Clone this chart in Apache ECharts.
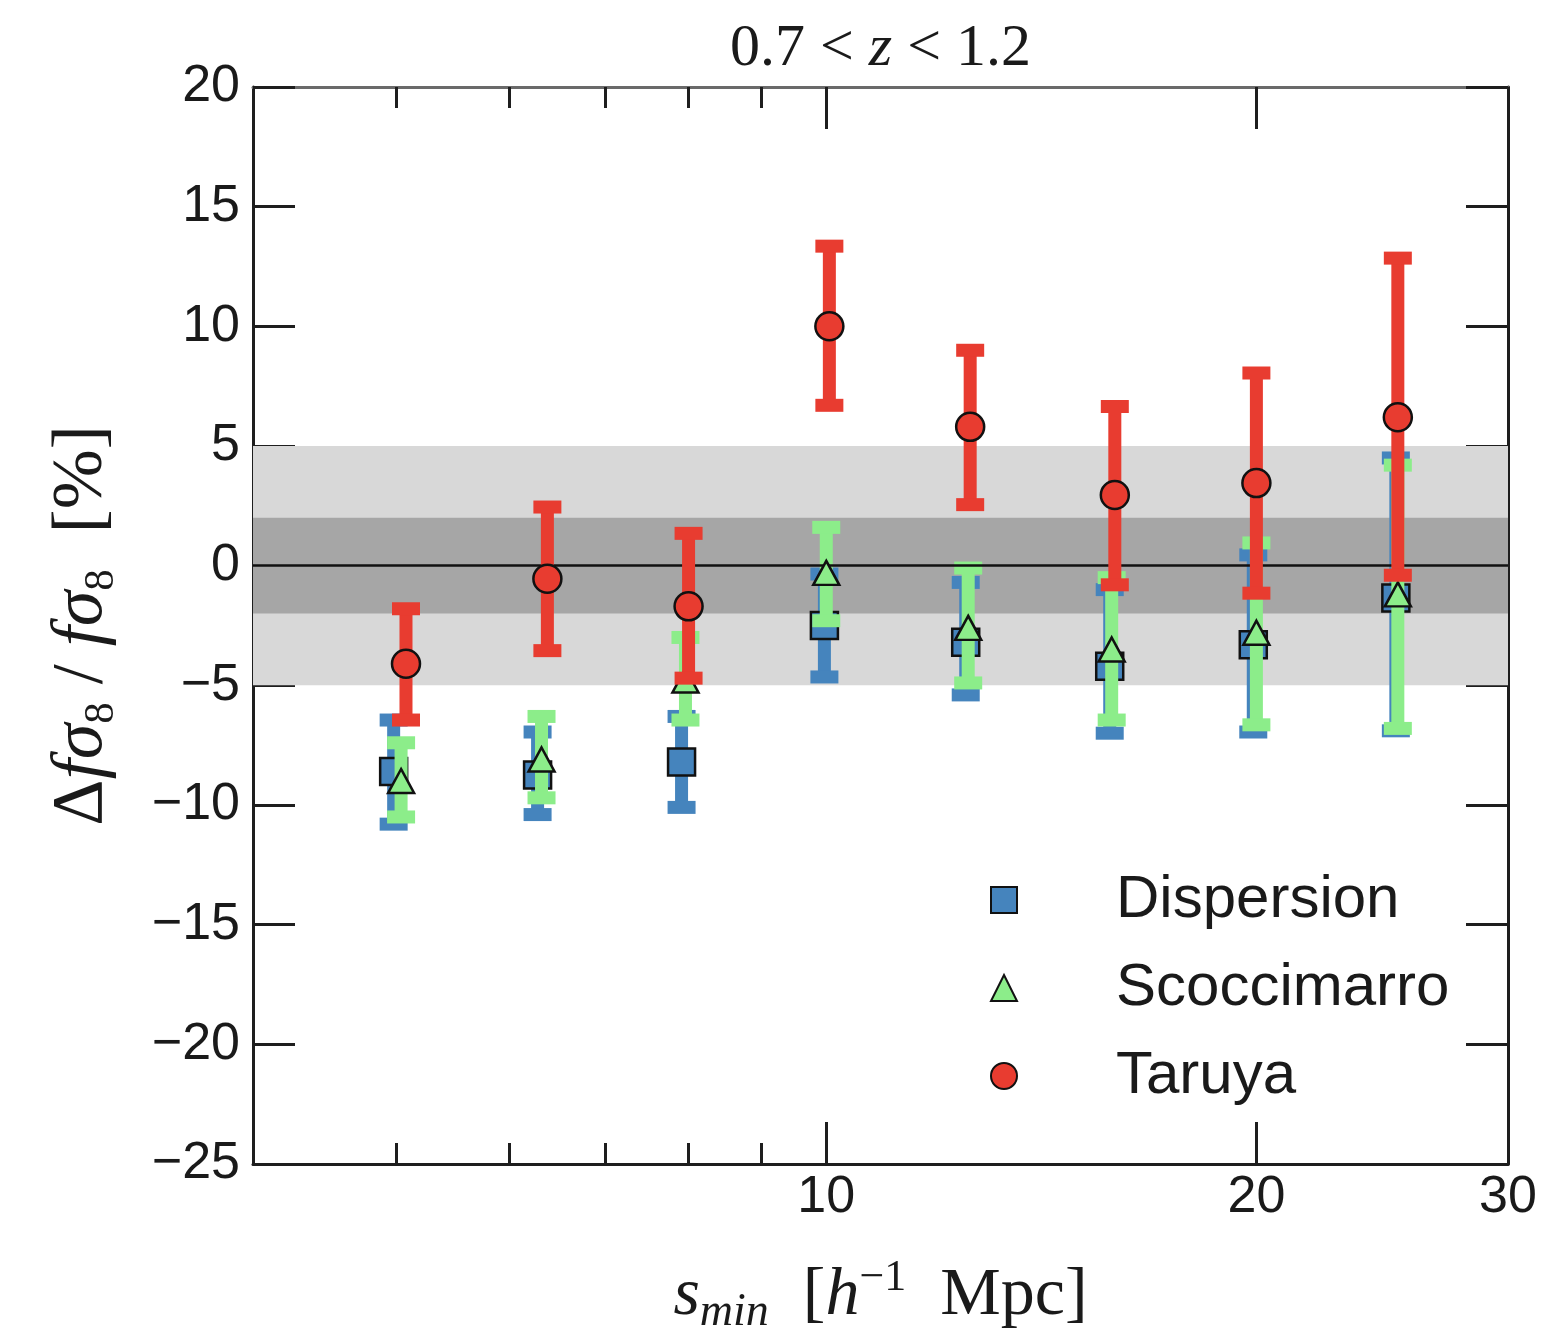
<!DOCTYPE html>
<html><head><meta charset="utf-8">
<script src="https://cdn.jsdelivr.net/npm/echarts@6/dist/echarts.min.js"></script>
<style>html,body{margin:0;padding:0;background:#fff}#c{width:1547px;height:1334px}</style>
</head><body><div id="c"></div>
<script>
// ---- data ----
const seriesNames = ['Dispersion', 'Scoccimarro', 'Taruya'];

const dispX  = [4.98, 6.28, 7.92, 9.97, 12.52, 15.79, 19.90, 25.04];
const dispY  = [-8.6, -8.75, -8.2, -2.5, -3.2, -4.2, -3.3, -1.35];
const dispLo = [-10.8, -10.4, -10.1, -4.65, -5.4, -7.0, -6.95, -6.9];
const dispHi = [-6.45, -6.95, -6.3, -0.35, -0.7, -1.0, 0.45, 4.5];

const scocX  = [5.04, 6.32, 7.97, 10.0, 12.57, 15.84, 20.0, 25.12];
const scocY  = [-9.0, -8.1, -4.8, -0.3, -2.6, -3.5, -2.8, -1.2];
const scocLo = [-10.5, -9.7, -6.45, -2.3, -4.9, -6.45, -6.65, -6.8];
const scocHi = [-7.4, -6.3, -3.0, 1.6, -0.1, -0.5, 0.95, 4.2];

const taruX  = [5.08, 6.38, 8.01, 10.05, 12.61, 15.92, 20.0, 25.12];
const taruY  = [-4.1, -0.55, -1.7, 10.0, 5.8, 2.95, 3.45, 6.2];
const taruLo = [-6.45, -3.55, -4.7, 6.7, 2.55, -0.8, -1.15, -0.4];
const taruHi = [-1.8, 2.45, 1.35, 13.35, 9.0, 6.65, 8.05, 12.85];

const bandOuter = [-5, 5];
const bandInner = [-2, 2];
const zeroLine = 0;

const xMin = 3.97, xMax = 30;
const xMajorTicks = [10, 20, 30];
const xMinorTicks = [5, 6, 7, 8, 9];
const yMin = -25, yMax = 20, yStep = 5;

// ---- styles ----
const colBlue = '#4584bd', colGreen = '#8ced8a', colRed = '#e83c30';
const frameCol = '#1e1e1e';

const chart = echarts.init(document.getElementById('c'), null, {renderer: 'canvas'});

function errRender(color) {
  return function (params, api) {
    const x = api.value(0), lo = api.value(1), hi = api.value(2);
    const a = api.coord([x, lo]), b = api.coord([x, hi]);
    const hw = 14, lw = 13;
    const st = {stroke: color, lineWidth: lw, lineCap: 'butt'};
    return {type: 'group', children: [
      {type: 'line', shape: {x1: a[0], y1: a[1], x2: b[0], y2: b[1]}, style: st},
      {type: 'line', shape: {x1: a[0] - hw, y1: a[1], x2: a[0] + hw, y2: a[1]}, style: st},
      {type: 'line', shape: {x1: b[0] - hw, y1: b[1], x2: b[0] + hw, y2: b[1]}, style: st}
    ]};
  };
}
function bandRender(params, api) {
  const lo = api.value(0), hi = api.value(1);
  const p1 = api.coord([xMin, hi]), p2 = api.coord([xMax, lo]);
  return {type: 'rect', shape: {x: p1[0], y: p1[1], width: p2[0] - p1[0], height: p2[1] - p1[1]},
          style: {fill: api.value(2) === 1 ? '#a6a6a6' : '#d8d8d8'}};
}

const L = Math.log10;
const serif = 'Liberation Serif';
const sans = 'Liberation Sans';

const tickAxisBase = (pos, vals, len, showLine, lineColor) => ({
  type: 'value', gridIndex: 0, position: pos, min: L(xMin), max: L(xMax),
  axisLine: {show: showLine, onZero: false, lineStyle: {color: lineColor || frameCol, width: 3}},
  axisTick: {show: true, inside: true, length: len, customValues: vals.map(L), lineStyle: {color: frameCol, width: 3}},
  axisLabel: {show: false}, splitLine: {show: false}
});

const xAxes = [
  {type: 'log', logBase: 10, min: xMin, max: xMax, show: false, gridIndex: 0},
  Object.assign(tickAxisBase('bottom', xMajorTicks, 42, true), {
    axisLabel: {show: true, customValues: xMajorTicks.map(L), margin: 8,
      formatter: v => String(Math.round(Math.pow(10, v))),
      fontFamily: sans, fontSize: 52, color: '#1a1a1a'},
    name: '{i|s}{sub|min}{n|  [}{i|h}{sup|\u22121}{n|  Mpc]}',
    nameLocation: 'middle', nameGap: 92,
    nameTextStyle: {fontFamily: serif, fontSize: 66, color: '#1a1a1a',
      rich: {
        i: {fontFamily: serif, fontStyle: 'italic', fontSize: 68, color: '#1a1a1a', lineHeight: 80},
        sub: {fontFamily: serif, fontStyle: 'italic', fontSize: 46, color: '#1a1a1a', verticalAlign: 'bottom', lineHeight: 60},
        sup: {fontFamily: serif, fontSize: 44, color: '#1a1a1a', verticalAlign: 'top', lineHeight: 50},
        n: {fontFamily: serif, fontSize: 68, color: '#1a1a1a', lineHeight: 80}
      }}
  }),
  tickAxisBase('bottom', xMinorTicks, 21, false),
  Object.assign(tickAxisBase('top', xMajorTicks, 42, true, '#6a6a6a'), {
    name: '{n|0.7 < }{i|z}{n| < 1.2}', nameLocation: 'middle', nameGap: 8,
    nameTextStyle: {fontFamily: serif, fontSize: 60, color: '#1a1a1a',
      rich: {n: {fontFamily: serif, fontSize: 60, color: '#1a1a1a'},
             i: {fontFamily: serif, fontStyle: 'italic', fontSize: 60, color: '#1a1a1a'}}}
  }),
  tickAxisBase('top', xMinorTicks, 21, false)
];

const yAxes = [
  {type: 'value', position: 'left', min: yMin, max: yMax, interval: yStep,
   axisLine: {show: true, onZero: false, lineStyle: {color: frameCol, width: 3}},
   axisTick: {show: true, inside: true, length: 42, lineStyle: {color: frameCol, width: 3}},
   axisLabel: {margin: 13, fontFamily: sans, fontSize: 52, color: '#1a1a1a',
     formatter: v => (v < 0 ? '\u2212' + Math.abs(v) : String(v))},
   splitLine: {show: false},
   name: '{n|\u0394}{i|f\u03c3}{sub|8}{n| / }{i|f\u03c3}{sub|8}{n|  [%]}',
   nameLocation: 'middle', nameRotate: 90, nameGap: 130,
   nameTextStyle: {fontFamily: serif, fontSize: 72, color: '#1a1a1a',
     rich: {
       n: {fontFamily: serif, fontSize: 72, color: '#1a1a1a', lineHeight: 82},
       i: {fontFamily: serif, fontStyle: 'italic', fontSize: 72, color: '#1a1a1a', lineHeight: 82},
       sub: {fontFamily: serif, fontSize: 43, color: '#1a1a1a', verticalAlign: 'bottom', lineHeight: 60}
     }}
  },
  {type: 'value', position: 'right', min: yMin, max: yMax, interval: yStep,
   axisLine: {show: true, onZero: false, lineStyle: {color: frameCol, width: 3}},
   axisTick: {show: true, inside: true, length: 42, lineStyle: {color: frameCol, width: 3}},
   axisLabel: {show: false}, splitLine: {show: false}}
];

const mk = (xs, a, b) => xs.map((x, i) => [x, a[i], b[i]]);

const option = {
  animation: false,
  backgroundColor: '#ffffff',
  grid: {left: 253, right: 39, top: 87, bottom: 170, containLabel: false, outerBoundsMode: 'none'},
  xAxis: xAxes,
  yAxis: yAxes,
  legend: {
    data: seriesNames, orient: 'vertical', left: 990, top: 870, padding: 0,
    itemWidth: 26, itemHeight: 26, itemGap: 28, selectedMode: false,
    formatter: name => '{sp| }' + name,
    textStyle: {fontFamily: sans, fontSize: 60, color: '#1a1a1a', lineHeight: 60,
      rich: {sp: {width: 94}}}
  },
  series: [
    {type: 'custom', name: 'bands', xAxisIndex: 0, yAxisIndex: 0, z: 1, silent: true,
     renderItem: bandRender, clip: true,
     data: [[bandOuter[0], bandOuter[1], 0], [bandInner[0], bandInner[1], 1]],
     encode: {y: [0, 1]},
     markLine: {silent: true, symbol: 'none', z: 4.5, label: {show: false},
       lineStyle: {color: '#111', width: 2.5, type: 'solid'}, data: [{yAxis: zeroLine}]}},
    {type: 'custom', name: 'Dispersion err', xAxisIndex: 0, yAxisIndex: 0, z: 2,
     renderItem: errRender(colBlue), data: mk(dispX, dispLo, dispHi), encode: {x: 0, y: [1, 2]}},
    {type: 'scatter', name: 'Dispersion', xAxisIndex: 0, yAxisIndex: 0, z: 3,
     symbol: 'rect', symbolSize: 27,
     itemStyle: {color: colBlue, borderColor: '#111', borderWidth: 2.5, opacity: 1},
     data: dispX.map((x, i) => [x, dispY[i]])},
    {type: 'custom', name: 'Scoccimarro err', xAxisIndex: 0, yAxisIndex: 0, z: 4,
     renderItem: errRender(colGreen), data: mk(scocX, scocLo, scocHi), encode: {x: 0, y: [1, 2]}},
    {type: 'scatter', name: 'Scoccimarro', xAxisIndex: 0, yAxisIndex: 0, z: 5,
     symbol: 'triangle', symbolSize: [26, 24],
     itemStyle: {color: colGreen, borderColor: '#111', borderWidth: 2.5, opacity: 1},
     data: scocX.map((x, i) => [x, scocY[i]])},
    {type: 'custom', name: 'Taruya err', xAxisIndex: 0, yAxisIndex: 0, z: 6,
     renderItem: errRender(colRed), data: mk(taruX, taruLo, taruHi), encode: {x: 0, y: [1, 2]}},
    {type: 'scatter', name: 'Taruya', xAxisIndex: 0, yAxisIndex: 0, z: 7,
     symbol: 'circle', symbolSize: 28,
     itemStyle: {color: colRed, borderColor: '#111', borderWidth: 2.5, opacity: 1},
     data: taruX.map((x, i) => [x, taruY[i]])}
  ]
};
chart.setOption(option);
</script>
</body></html>
